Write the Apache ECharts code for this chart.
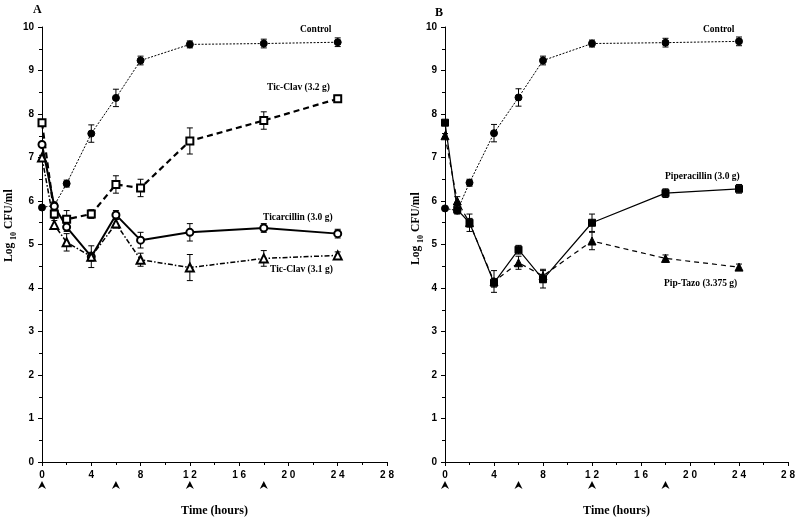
<!DOCTYPE html>
<html><head><meta charset="utf-8">
<script src="https://cdn.jsdelivr.net/npm/echarts@6/dist/echarts.min.js"></script>
<style>html,body{margin:0;padding:0;background:#fff}#c{width:800px;height:522px}</style>
</head><body><div id="c"></div>
<script>
const times = [0, 1, 2, 4, 6, 8, 12, 18, 24];
const doseTimes = [0, 6, 12, 18];
const xTickLabels = [0, 4, 8, 12, 16, 20, 24, 28];
const yTickLabels = [0, 1, 2, 3, 4, 5, 6, 7, 8, 9, 10];

// Panel A
const aControl      = [5.85, 5.9, 6.4, 7.55, 8.37, 9.23, 9.6, 9.62, 9.65];
const aControlErr   = [0.04, 0.05, 0.08, 0.2, 0.2, 0.1, 0.08, 0.1, 0.1];
const aTicClav32    = [7.8, 5.7, 5.58, 5.7, 6.38, 6.3, 7.38, 7.85, 8.35];
const aTicClav32Err = [0.05, 0.1, 0.2, 0.1, 0.2, 0.2, 0.3, 0.2, 0.08];
const aTicar30      = [7.3, 5.88, 5.4, 4.72, 5.68, 5.1, 5.28, 5.38, 5.25];
const aTicar30Err   = [0.05, 0.1, 0.1, 0.25, 0.1, 0.18, 0.2, 0.1, 0.1];
const aTicClav31    = [7.0, 5.45, 5.05, 4.72, 5.48, 4.65, 4.47, 4.68, 4.75];
const aTicClav31Err = [0.05, 0.1, 0.2, 0.1, 0.1, 0.15, 0.3, 0.18, 0.08];

// Panel B
const bControl      = [5.83, 5.78, 6.42, 7.56, 8.38, 9.23, 9.62, 9.64, 9.67];
const bControlErr   = [0.04, 0.05, 0.08, 0.2, 0.2, 0.1, 0.08, 0.1, 0.1];
const bPip30        = [7.8, 5.8, 5.5, 4.12, 4.88, 4.2, 5.5, 6.18, 6.28];
const bPip30Err     = [0.05, 0.1, 0.2, 0.1, 0.1, 0.2, 0.2, 0.1, 0.1];
const bPipTazo      = [7.5, 6.0, 5.5, 4.15, 4.58, 4.28, 5.08, 4.68, 4.48];
const bPipTazoErr   = [0.05, 0.1, 0.1, 0.25, 0.15, 0.15, 0.2, 0.08, 0.07];

const chart = echarts.init(document.getElementById('c'));
const SERIF = '"Liberation Serif","DejaVu Serif",serif';
const SANS = '"Liberation Sans",Arial,sans-serif';

function errSeries(idx, vals, errs) {
  return {
    type: 'custom', xAxisIndex: idx, yAxisIndex: idx, clip: false, silent: true, z: 3,
    animation: false,
    data: times.map((t, i) => [t, vals[i], errs[i]]),
    renderItem: (params, api) => {
      const t = api.value(0), v = api.value(1), e = api.value(2);
      const hi = api.coord([t, v + e]), lo = api.coord([t, v - e]);
      const w = 3, st = {stroke: '#000', lineWidth: 1};
      return {type: 'group', children: [
        {type: 'line', shape: {x1: hi[0], y1: hi[1], x2: lo[0], y2: lo[1]}, style: st},
        {type: 'line', shape: {x1: hi[0] - w, y1: hi[1], x2: hi[0] + w, y2: hi[1]}, style: st},
        {type: 'line', shape: {x1: lo[0] - w, y1: lo[1], x2: lo[0] + w, y2: lo[1]}, style: st}
      ]};
    }
  };
}
function lineSeries(idx, name, vals, symbol, size, lineStyle) {
  return {
    type: 'line', name, xAxisIndex: idx, yAxisIndex: idx, z: 4, animation: false,
    data: times.map((t, i) => [t, vals[i]]),
    symbol, symbolSize: size, showSymbol: true,
    lineStyle: Object.assign({color: '#000'}, lineStyle),
    itemStyle: {color: '#000', borderColor: '#000', borderWidth: 1}
  };
}
function doseSeries(idx) {
  return {
    type: 'custom', xAxisIndex: idx, yAxisIndex: idx, clip: false, silent: true, animation: false,
    data: doseTimes.map(t => [t, 0]),
    renderItem: (params, api) => {
      const c = api.coord([api.value(0), 0]);
      const x = c[0], y = c[1] + 19;
      return {type: 'polygon', shape: {points: [[x - 4, y + 8], [x, y], [x + 4, y + 8], [x, y + 5.5]]},
        style: {fill: '#000'}};
    }
  };
}
function xAx(idx) {
  return {
    type: 'value', gridIndex: idx, min: 0, max: 28, interval: 4,
    axisLine: {lineStyle: {color: '#000', width: 1}},
    axisTick: {show: true, length: 4, lineStyle: {color: '#000'}},
    minorTick: {show: true, splitNumber: 2, length: 3, lineStyle: {color: '#000'}},
    splitLine: {show: false},
    axisLabel: {margin: 8, color: '#000', fontFamily: SANS, fontSize: 10, fontWeight: 'bold',
      formatter: v => xTickLabels.includes(v) ? String(v).split('').join(' ') : ''},
    name: 'Time (hours)', nameLocation: 'middle', nameGap: 43,
    nameTextStyle: {color: '#000', fontFamily: SERIF, fontSize: 12, fontWeight: 'bold'}
  };
}
function yAx(idx) {
  return {
    type: 'value', gridIndex: idx, min: 0, max: 10, interval: 1,
    axisLine: {show: true, lineStyle: {color: '#000', width: 1}},
    axisTick: {show: true, length: 4, lineStyle: {color: '#000'}},
    minorTick: {show: true, splitNumber: 2, length: 3, lineStyle: {color: '#000'}},
    splitLine: {show: false},
    axisLabel: {margin: 8, color: '#000', fontFamily: SANS, fontSize: 10, fontWeight: 'bold',
      formatter: v => yTickLabels.includes(v) ? String(v) : ''}
  };
}
function txt(x, y, s, size, align) {
  return {type: 'text', x, y, silent: true,
    style: {text: s, font: 'bold ' + size + 'px ' + SERIF, fill: '#000',
      align: align || 'left', textAlign: align || 'left', verticalAlign: 'middle', textVerticalAlign: 'middle'}};
}
function yLabel(x, yBottom) {
  return {type: 'group', x, y: yBottom, rotation: Math.PI / 2, silent: true, children: [
    txt(0, 0, 'Log', 11.5),
    txt(22, 4.5, '10', 8),
    txt(33, 0, 'CFU/ml', 11.5)
  ]};
}

chart.setOption({
  backgroundColor: '#fff',
  animation: false,
  grid: [
    {left: 42, top: 27, width: 345, height: 436},
    {left: 445, top: 27, width: 343, height: 437}
  ],
  xAxis: [xAx(0), xAx(1)],
  yAxis: [yAx(0), yAx(1)],
  series: [
    errSeries(0, aControl, aControlErr),
    errSeries(0, aTicClav32, aTicClav32Err),
    errSeries(0, aTicar30, aTicar30Err),
    errSeries(0, aTicClav31, aTicClav31Err),
    lineSeries(0, 'Control', aControl, 'circle', 7, {width: 1, type: [2, 1.5]}),
    lineSeries(0, 'Tic-Clav (3.2 g)', aTicClav32, 'emptyRect', 7, {width: 2.2, type: [6, 4]}),
    lineSeries(0, 'Ticarcillin (3.0 g)', aTicar30, 'emptyCircle', 7, {width: 2, type: 'solid'}),
    lineSeries(0, 'Tic-Clav (3.1 g)', aTicClav31, 'emptyTriangle', 8, {width: 1.5, type: [5, 2, 1.5, 2]}),
    doseSeries(0),
    errSeries(1, bControl, bControlErr),
    errSeries(1, bPip30, bPip30Err),
    errSeries(1, bPipTazo, bPipTazoErr),
    lineSeries(1, 'Control', bControl, 'circle', 7, {width: 1, type: [2, 1.5]}),
    lineSeries(1, 'Piperacillin (3.0 g)', bPip30, 'rect', 7, {width: 1.2, type: 'solid'}),
    lineSeries(1, 'Pip-Tazo (3.375 g)', bPipTazo, 'triangle', 8, {width: 1.2, type: [5, 4]}),
    doseSeries(1)
  ],
  graphic: [
    txt(33, 10, 'A', 12),
    txt(435, 13, 'B', 12),
    txt(300, 30, 'Control', 9.5),
    txt(267, 88, 'Tic-Clav (3.2 g)', 9.5),
    txt(263, 218, 'Ticarcillin (3.0 g)', 9.5),
    txt(270, 270, 'Tic-Clav (3.1 g)', 9.5),
    txt(703, 30, 'Control', 9.5),
    txt(665, 177, 'Piperacillin (3.0 g)', 9.5),
    txt(664, 284, 'Pip-Tazo (3.375 g)', 9.5),
    yLabel(9, 262),
    yLabel(416, 265)
  ]
});
</script>
</body></html>
